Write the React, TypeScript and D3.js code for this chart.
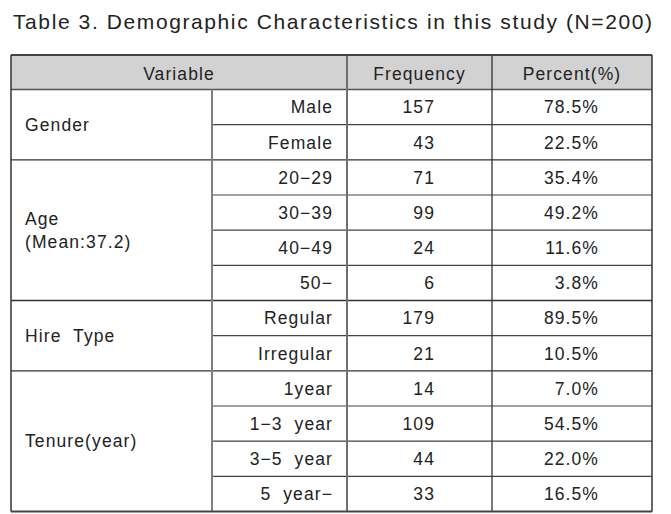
import React from "react";
import * as d3 from "d3";

const title = "Table 3. Demographic Characteristics in this study (N=200)";
const headers = ["Variable", "Frequency", "Percent(%)"];
const groups = ["Gender", "Age\n(Mean:37.2)", "Hire  Type", "Tenure(year)"];
const groupSizes = [2, 4, 2, 4];
const subLabels = ["Male", "Female", "20\u221229", "30\u221239", "40\u221249", "50\u2212", "Regular", "Irregular", "1year", "1\u22123  year", "3\u22125  year", "5  year\u2212"];
const frequencies = [157, 43, 71, 99, 24, 6, 179, 21, 14, 109, 44, 33];
const percents = [78.5, 22.5, 35.4, 49.2, 11.6, 3.8, 89.5, 10.5, 7.0, 54.5, 22.0, 16.5];

const W = 671, H = 514;
const left = 11, right = 652;
const colX = [left, 212, 347, 492, right];
const headTop = 55, headBot = 89.5, bottom = 511.5;
const FONT = "'Liberation Sans', Arial, sans-serif";

export default function App() {
  const n = subLabels.length;
  const y = d3.scaleLinear().domain([0, n]).range([headBot, bottom]);
  const starts = d3.cumsum([0, ...groupSizes.slice(0, -1)]);
  const fs = 17.5;
  const ls = 1.1;
  const textColor = "#222";
  return (
    <svg width={W} height={H} style={{ position: "absolute", left: 0, top: 0, background: "#fff" }}>
      <text x={13} y={28.5} fontFamily={FONT} fontSize={21} fill={textColor} textLength={639} lengthAdjust="spacing">{title}</text>
      <rect x={left} y={headTop} width={right - left} height={headBot - headTop} fill="#d2d2d2" />
      <text x={(colX[0] + colX[2]) / 2} y={79.5} textAnchor="middle" fontFamily={FONT} fontSize={fs} letterSpacing={ls} fill={textColor}>{headers[0]}</text>
      <text x={(colX[2] + colX[3]) / 2} y={79.5} textAnchor="middle" fontFamily={FONT} fontSize={fs} letterSpacing={ls} fill={textColor}>{headers[1]}</text>
      <text x={(colX[3] + colX[4]) / 2} y={79.5} textAnchor="middle" fontFamily={FONT} fontSize={fs} letterSpacing={ls} fill={textColor}>{headers[2]}</text>
      {subLabels.map((s, i) => {
        const cy = (y(i) + y(i + 1)) / 2 + 6.3;
        return (
          <g key={i}>
            <text x={333} y={cy} textAnchor="end" fontFamily={FONT} fontSize={fs} letterSpacing={ls} fill={textColor} style={{ whiteSpace: "pre" }}>{s}</text>
            <text x={435} y={cy} textAnchor="end" fontFamily={FONT} fontSize={fs} letterSpacing={ls} fill={textColor}>{frequencies[i]}</text>
            <text x={599} y={cy} textAnchor="end" fontFamily={FONT} fontSize={fs} letterSpacing={ls} fill={textColor}>{percents[i].toFixed(1) + "%"}</text>
          </g>
        );
      })}
      {groups.map((g, gi) => {
        const lines = g.split("\n");
        const cy = (y(starts[gi]) + y(starts[gi] + groupSizes[gi])) / 2;
        const lh = 23;
        return (
          <g key={gi}>
            {lines.map((l, li) => (
              <text key={li} x={25} y={cy + 6.3 + (li - (lines.length - 1) / 2) * lh} fontFamily={FONT} fontSize={fs} letterSpacing={ls} fill={textColor} style={{ whiteSpace: "pre" }}>{l}</text>
            ))}
          </g>
        );
      })}
      {subLabels.map((_, i) => {
        if (i === 0) return null;
        const isGroupStart = starts.includes(i);
        const yy = y(i);
        return isGroupStart ? (
          <line key={"h" + i} x1={left} x2={right} y1={yy} y2={yy} stroke="#333" strokeWidth={1.3} />
        ) : (
          <line key={"h" + i} x1={colX[1]} x2={right} y1={yy} y2={yy} stroke="#444" strokeWidth={1.2} />
        );
      })}
      <line x1={left} x2={right} y1={headBot} y2={headBot} stroke="#555" strokeWidth={1.5} />
      <line x1={colX[1]} x2={colX[1]} y1={headBot} y2={bottom} stroke="#808080" strokeWidth={2} />
      <line x1={colX[2]} x2={colX[2]} y1={headTop} y2={bottom} stroke="#707070" strokeWidth={2} />
      <line x1={colX[3]} x2={colX[3]} y1={headTop} y2={bottom} stroke="#333" strokeWidth={1.3} />
      <line x1={left} x2={right} y1={headTop} y2={headTop} stroke="#444" strokeWidth={2.2} />
      <line x1={left} x2={right} y1={bottom} y2={bottom} stroke="#444" strokeWidth={1.8} />
      <line x1={left} x2={left} y1={headTop} y2={bottom} stroke="#333" strokeWidth={1.5} />
      <line x1={right} x2={right} y1={headTop} y2={bottom} stroke="#333" strokeWidth={1.5} />
    </svg>
  );
}
